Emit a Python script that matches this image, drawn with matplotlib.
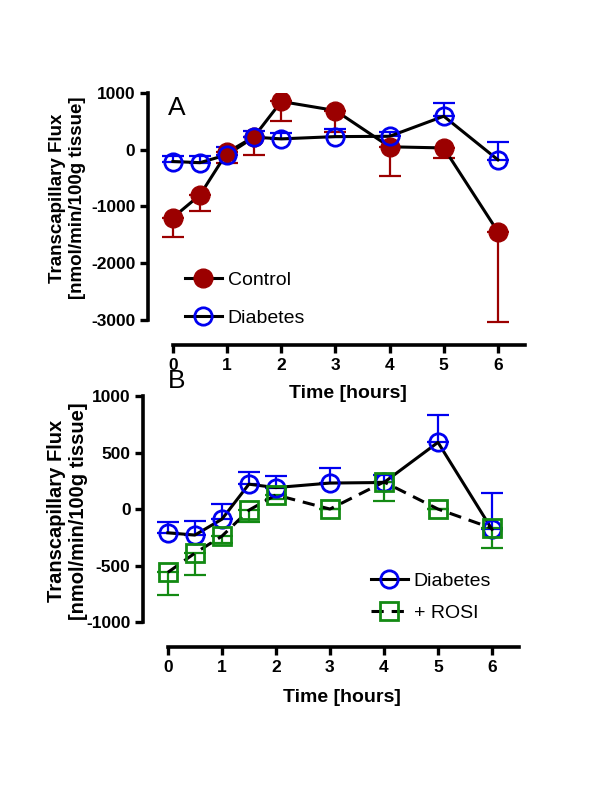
import matplotlib
matplotlib.use("Agg")
import matplotlib.pyplot as plt
from matplotlib.lines import Line2D

plt.rcParams['font.family'] = ['Liberation Sans', 'DejaVu Sans']
plt.rcParams['axes.unicode_minus'] = False

# ---- data ----
time = [0, 0.5, 1, 1.5, 2, 3, 4, 5, 6]

control = [-1200, -800, -50, 230, 850, 690, 50, 30, -1450]
control_err = [340, 280, 180, 330, 350, 370, 510, 180, 1600]

diabetes = [-210, -230, -90, 220, 190, 230, 235, 590, -180]
diabetes_err = [100, 125, 135, 105, 100, 130, 70, 240, 320]

rosi = [-560, -390, -240, -10, 125, 0, 240, 0, -170]
rosi_err = [200, 190, 60, 100, 40, 0, 170, 0, 170]

xticks = [0, 1, 2, 3, 4, 5, 6]
yticks_a = [-3000, -2000, -1000, 0, 1000]
yticks_b = [-1000, -500, 0, 500, 1000]

RED = '#9B0000'
BLUE = '#0000F0'
GREEN = '#138A13'

fig = plt.figure(figsize=(6, 8), dpi=100)

axA = fig.add_axes([148/600, 1-345/800, (525-148)/600, (345-93)/800])
axB = fig.add_axes([143/600, 1-647/800, (519-143)/600, (647-396)/800])
axB.set_facecolor('none')
axA.set_facecolor('none')

LW = 2.2
MS = 13.5
EW = 1.6
CAP = 8


def style(ax, ylim, yb, yticks, lblsize, ylab_xy, xlab_xy):
    ax.set_xlim(-0.46, 6.5)
    ax.set_ylim(*ylim)
    for s in ['top', 'right']:
        ax.spines[s].set_visible(False)
    ax.spines['left'].set_bounds(*yb)
    ax.spines['bottom'].set_bounds(0, 6.5)
    for s in ['left', 'bottom']:
        ax.spines[s].set_linewidth(2.6)
    ax.set_xticks(xticks)
    ax.set_yticks(yticks)
    ax.tick_params(width=2.4, length=6, labelsize=12.5, pad=3)
    for t in ax.get_xticklabels() + ax.get_yticklabels():
        t.set_fontweight('bold')
    ax.set_ylabel('Transcapillary Flux\n[nmol/min/100g tissue]', fontsize=lblsize,
                  fontweight='bold', linespacing=1.2)
    ax.yaxis.set_label_coords(*ylab_xy)
    ax.set_xlabel('Time [hours]', fontsize=14, fontweight='bold')
    ax.xaxis.set_label_coords(*xlab_xy)


# ---- Panel A ----
axA.errorbar(time, control, yerr=[control_err, [0]*len(time)], fmt='none',
             ecolor=RED, elinewidth=EW, capsize=CAP, capthick=EW, zorder=2)
axA.errorbar(time, diabetes, yerr=[[0]*len(time), diabetes_err], fmt='none',
             ecolor=BLUE, elinewidth=EW, capsize=CAP, capthick=EW, zorder=2)
axA.plot(time, control, color='black', lw=LW, zorder=3)
axA.plot(time, diabetes, color='black', lw=LW, zorder=3)
axA.plot(time, control, ls='none', marker='o', ms=MS, mfc=RED, mec=RED, zorder=4)
axA.plot(time, diabetes, ls='none', marker='o', ms=MS - 1, mfc='none', mec=BLUE,
         mew=2.0, zorder=5)
style(axA, (-3450, 1000), (-3000, 1000), yticks_a, 13.5,
      ((86-148)/377, (345-198)/252), ((348-148)/377, (345-385)/252))

hA = [Line2D([], [], color='black', lw=LW, marker='o', ms=MS, mfc=RED, mec=RED),
      Line2D([], [], color='black', lw=LW, marker='o', ms=MS - 1, mfc='none', mec=BLUE, mew=2.0)]
axA.legend(hA, ['Control', 'Diabetes'], loc='upper left',
           bbox_to_anchor=((185-148)/377, (345-271)/252), frameon=False,
           fontsize=14, handlelength=1.9, handletextpad=0.3, borderpad=0,
           borderaxespad=0, labelspacing=1.05)

# ---- Panel B ----
axB.errorbar(time, diabetes, yerr=[[0]*len(time), diabetes_err], fmt='none',
             ecolor=BLUE, elinewidth=EW, capsize=CAP, capthick=EW, zorder=2)
axB.errorbar(time, rosi, yerr=[rosi_err, [0]*len(time)], fmt='none',
             ecolor=GREEN, elinewidth=EW, capsize=CAP, capthick=EW, zorder=2)
axB.plot(time, diabetes, color='black', lw=LW, zorder=3)
axB.plot(time, rosi, color='black', lw=LW, ls=(0, (4, 2.6)), zorder=3)
axB.plot(time, diabetes, ls='none', marker='o', ms=MS - 1, mfc='none', mec=BLUE,
         mew=2.0, zorder=5)
axB.plot(time, rosi, ls='none', marker='s', ms=MS - 1, mfc='none', mec=GREEN,
         mew=2.0, zorder=5)
style(axB, (-1220, 1000), (-1000, 1000), yticks_b, 14.5,
      ((88-143)/376, (647-511)/251), ((342-143)/376, (647-689)/251))

hB = [Line2D([], [], color='black', lw=LW, marker='o', ms=MS - 1, mfc='none', mec=BLUE, mew=2.0),
      Line2D([], [], color='black', lw=LW, ls=(0, (4, 2.6)), marker='s', ms=MS - 1,
             mfc='none', mec=GREEN, mew=2.0)]
axB.legend(hB, ['Diabetes', '+ ROSI'], loc='upper left',
           bbox_to_anchor=((371-143)/376, (647-572)/251), frameon=False,
           fontsize=14, handlelength=1.9, handletextpad=0.3, borderpad=0,
           borderaxespad=0, labelspacing=0.75)

# panel letters
fig.text(177/600, 1-108/800, 'A', ha='center', va='center', fontsize=19)
fig.text(177/600, 1-381/800, 'B', ha='center', va='center', fontsize=19)

fig.savefig('out.png', dpi=100)
